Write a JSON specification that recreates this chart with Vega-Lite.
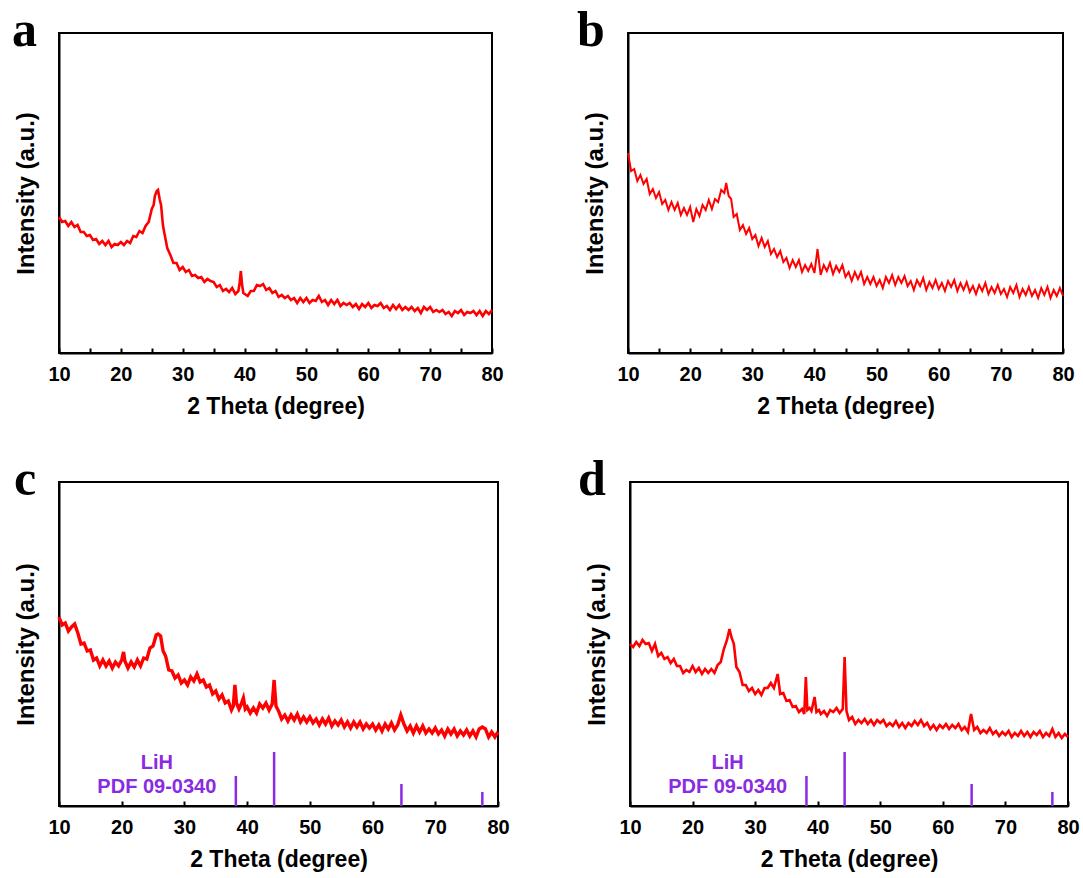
{
"$schema":"https://vega.github.io/schema/vega-lite/v6.json",
"background":"white",
"padding":{"left":11,"top":5,"right":5,"bottom":0},
"config":{
 "font":"Liberation Sans",
 "view":{"stroke":"black","strokeWidth":2},
 "axis":{"grid":false,"domainColor":"black","domainWidth":2,"tickColor":"black","tickWidth":2,"labelFont":"Liberation Sans","labelFontWeight":"bold","labelFontSize":20,"labelColor":"black","titleFont":"Liberation Sans","titleFontWeight":"bold","titleFontSize":23,"titleColor":"black"},
 "axisX":{"tickSize":-5,"labelPadding":16,"titlePadding":11,"labelFlush":false,"labelOverlap":false},
 "axisY":{"ticks":false,"labels":false,"titlePadding":21,"titleFontSize":24},
 "title":{"font":"Liberation Serif","fontSize":50,"fontWeight":"bold","anchor":"start","frame":"group","color":"black","baseline":"alphabetic","offset":-23}
},
"datasets":{
"a":[{"x":10,"y":136},{"x":10.5,"y":131},{"x":11,"y":132},{"x":11.5,"y":127},{"x":12,"y":131},{"x":12.5,"y":126},{"x":13,"y":128},{"x":13.5,"y":121},{"x":14,"y":121},{"x":14.5,"y":117},{"x":15,"y":118},{"x":15.5,"y":113},{"x":16,"y":114},{"x":16.5,"y":109},{"x":17,"y":112},{"x":17.5,"y":108},{"x":18,"y":112},{"x":18.5,"y":106},{"x":19,"y":109},{"x":19.5,"y":108},{"x":20,"y":111},{"x":20.5,"y":108},{"x":21,"y":112},{"x":21.5,"y":110},{"x":22,"y":117},{"x":22.5,"y":116},{"x":23,"y":122},{"x":23.5,"y":120},{"x":24,"y":127},{"x":24.5,"y":131},{"x":25,"y":144},{"x":25.3,"y":148},{"x":25.5,"y":157},{"x":25.8,"y":162},{"x":26,"y":163},{"x":26.3,"y":153},{"x":26.5,"y":148},{"x":26.8,"y":128},{"x":27,"y":121},{"x":27.5,"y":105},{"x":28,"y":98},{"x":28.5,"y":90},{"x":29,"y":90},{"x":29.5,"y":83},{"x":30,"y":86},{"x":30.5,"y":81},{"x":31,"y":83},{"x":31.5,"y":77},{"x":32,"y":78},{"x":32.5,"y":75},{"x":33,"y":76},{"x":33.5,"y":71},{"x":34,"y":74},{"x":34.5,"y":72},{"x":35,"y":71},{"x":35.5,"y":66},{"x":36,"y":68},{"x":36.5,"y":62},{"x":37,"y":64},{"x":37.5,"y":61},{"x":38,"y":65},{"x":38.5,"y":59},{"x":39,"y":62},{"x":39.2,"y":70},{"x":39.4,"y":82},{"x":39.6,"y":68},{"x":39.8,"y":60},{"x":40.5,"y":57},{"x":41,"y":62},{"x":41.5,"y":62},{"x":42,"y":68},{"x":42.5,"y":67},{"x":43,"y":69},{"x":43.5,"y":63},{"x":44,"y":65},{"x":44.5,"y":60},{"x":45,"y":62},{"x":45.5,"y":56},{"x":46,"y":58},{"x":46.5,"y":55},{"x":47,"y":57},{"x":47.5,"y":53},{"x":48,"y":55},{"x":48.5,"y":50},{"x":49,"y":55},{"x":49.5,"y":51},{"x":50,"y":55},{"x":50.5,"y":50},{"x":51,"y":53},{"x":51.5,"y":52},{"x":52,"y":57},{"x":52.5,"y":51},{"x":53,"y":53},{"x":53.5,"y":48},{"x":54,"y":53},{"x":54.5,"y":49},{"x":55,"y":53},{"x":55.5,"y":47},{"x":56,"y":50},{"x":56.5,"y":48},{"x":57,"y":50},{"x":57.5,"y":46},{"x":58,"y":49},{"x":58.5,"y":44},{"x":59,"y":49},{"x":59.5,"y":46},{"x":60,"y":50},{"x":60.5,"y":45},{"x":61,"y":48},{"x":61.5,"y":47},{"x":62,"y":50},{"x":62.5,"y":45},{"x":63,"y":47},{"x":63.5,"y":43},{"x":64,"y":48},{"x":64.5,"y":44},{"x":65,"y":48},{"x":65.5,"y":43},{"x":66,"y":46},{"x":66.5,"y":43},{"x":67,"y":46},{"x":67.5,"y":42},{"x":68,"y":45},{"x":68.5,"y":40},{"x":69,"y":46},{"x":69.5,"y":43},{"x":70,"y":46},{"x":70.5,"y":41},{"x":71,"y":43},{"x":71.5,"y":41},{"x":72,"y":43},{"x":72.5,"y":39},{"x":73,"y":41},{"x":73.5,"y":37},{"x":74,"y":42},{"x":74.5,"y":40},{"x":75,"y":43},{"x":75.5,"y":38},{"x":76,"y":41},{"x":76.5,"y":40},{"x":77,"y":42},{"x":77.5,"y":38},{"x":78,"y":42},{"x":78.5,"y":37},{"x":79,"y":42},{"x":79.5,"y":39},{"x":80,"y":43}],
"b":[{"x":10,"y":200},{"x":10.5,"y":182},{"x":11,"y":184},{"x":11.5,"y":172},{"x":12,"y":178},{"x":12.5,"y":169},{"x":13,"y":174},{"x":13.5,"y":159},{"x":14,"y":164},{"x":14.5,"y":155},{"x":15,"y":161},{"x":15.5,"y":149},{"x":16,"y":153},{"x":16.5,"y":143},{"x":17,"y":151},{"x":17.5,"y":143},{"x":18,"y":150},{"x":18.5,"y":138},{"x":19,"y":145},{"x":19.5,"y":138},{"x":20,"y":146},{"x":20.5,"y":131},{"x":21,"y":144},{"x":21.5,"y":137},{"x":22,"y":148},{"x":22.5,"y":143},{"x":23,"y":153},{"x":23.5,"y":144},{"x":24,"y":154},{"x":24.5,"y":151},{"x":25,"y":163},{"x":25.5,"y":160},{"x":25.8,"y":170},{"x":26.2,"y":157},{"x":26.6,"y":154},{"x":27,"y":136},{"x":27.5,"y":139},{"x":28,"y":123},{"x":28.5,"y":128},{"x":29,"y":119},{"x":29.5,"y":125},{"x":30,"y":114},{"x":30.5,"y":118},{"x":31,"y":107},{"x":31.5,"y":115},{"x":32,"y":106},{"x":32.5,"y":112},{"x":33,"y":99},{"x":33.5,"y":104},{"x":34,"y":96},{"x":34.5,"y":102},{"x":35,"y":91},{"x":35.5,"y":95},{"x":36,"y":85},{"x":36.5,"y":93},{"x":37,"y":86},{"x":37.5,"y":93},{"x":38,"y":81},{"x":38.5,"y":88},{"x":39,"y":82},{"x":39.5,"y":89},{"x":40,"y":80},{"x":40.5,"y":104},{"x":41,"y":78},{"x":41.5,"y":88},{"x":42,"y":82},{"x":42.5,"y":90},{"x":43,"y":79},{"x":43.5,"y":87},{"x":44,"y":81},{"x":44.5,"y":88},{"x":45,"y":76},{"x":45.5,"y":81},{"x":46,"y":72},{"x":46.5,"y":81},{"x":47,"y":74},{"x":47.5,"y":81},{"x":48,"y":69},{"x":48.5,"y":76},{"x":49,"y":69},{"x":49.5,"y":76},{"x":50,"y":67},{"x":50.5,"y":73},{"x":51,"y":65},{"x":51.5,"y":76},{"x":52,"y":70},{"x":52.5,"y":78},{"x":53,"y":68},{"x":53.5,"y":76},{"x":54,"y":70},{"x":54.5,"y":77},{"x":55,"y":67},{"x":55.5,"y":72},{"x":56,"y":63},{"x":56.5,"y":73},{"x":57,"y":67},{"x":57.5,"y":75},{"x":58,"y":63},{"x":58.5,"y":71},{"x":59,"y":65},{"x":59.5,"y":73},{"x":60,"y":64},{"x":60.5,"y":70},{"x":61,"y":62},{"x":61.5,"y":72},{"x":62,"y":66},{"x":62.5,"y":73},{"x":63,"y":62},{"x":63.5,"y":70},{"x":64,"y":63},{"x":64.5,"y":71},{"x":65,"y":61},{"x":65.5,"y":67},{"x":66,"y":59},{"x":66.5,"y":68},{"x":67,"y":62},{"x":67.5,"y":70},{"x":68,"y":59},{"x":68.5,"y":66},{"x":69,"y":60},{"x":69.5,"y":68},{"x":70,"y":59},{"x":70.5,"y":64},{"x":71,"y":56},{"x":71.5,"y":66},{"x":72,"y":60},{"x":72.5,"y":68},{"x":73,"y":56},{"x":73.5,"y":64},{"x":74,"y":58},{"x":74.5,"y":66},{"x":75,"y":57},{"x":75.5,"y":63},{"x":76,"y":55},{"x":76.5,"y":65},{"x":77,"y":58},{"x":77.5,"y":66},{"x":78,"y":55},{"x":78.5,"y":63},{"x":79,"y":57},{"x":79.5,"y":65},{"x":80,"y":57}],
"c":[{"x":10,"y":189},{"x":10.5,"y":181},{"x":11,"y":183},{"x":11.5,"y":175},{"x":12,"y":179},{"x":12.5,"y":182},{"x":13,"y":173},{"x":13.5,"y":162},{"x":14,"y":163},{"x":14.5,"y":155},{"x":15,"y":156},{"x":15.5,"y":146},{"x":16,"y":148},{"x":16.5,"y":140},{"x":17,"y":146},{"x":17.5,"y":140},{"x":18,"y":145},{"x":18.5,"y":138},{"x":19,"y":144},{"x":19.5,"y":140},{"x":20,"y":146},{"x":20.3,"y":154},{"x":20.5,"y":145},{"x":21,"y":138},{"x":21.5,"y":144},{"x":22,"y":139},{"x":22.5,"y":146},{"x":23,"y":140},{"x":23.5,"y":148},{"x":24,"y":147},{"x":24.5,"y":158},{"x":25,"y":160},{"x":25.5,"y":171},{"x":25.8,"y":172},{"x":26.2,"y":170},{"x":26.6,"y":155},{"x":27,"y":150},{"x":27.5,"y":136},{"x":28,"y":135},{"x":28.5,"y":128},{"x":29,"y":131},{"x":29.5,"y":123},{"x":30,"y":126},{"x":30.5,"y":121},{"x":31,"y":129},{"x":31.5,"y":125},{"x":32,"y":132},{"x":32.5,"y":124},{"x":33,"y":126},{"x":33.5,"y":119},{"x":34,"y":121},{"x":34.5,"y":112},{"x":35,"y":115},{"x":35.5,"y":107},{"x":36,"y":111},{"x":36.5,"y":103},{"x":37,"y":105},{"x":37.5,"y":96},{"x":37.8,"y":100},{"x":38.05,"y":121},{"x":38.3,"y":103},{"x":38.7,"y":97},{"x":39,"y":101},{"x":39.4,"y":108},{"x":39.7,"y":97},{"x":40,"y":99},{"x":40.5,"y":93},{"x":41,"y":98},{"x":41.5,"y":93},{"x":42,"y":102},{"x":42.5,"y":98},{"x":43,"y":103},{"x":43.5,"y":96},{"x":44,"y":102},{"x":44.3,"y":126},{"x":44.6,"y":100},{"x":45,"y":95},{"x":45.5,"y":87},{"x":46,"y":91},{"x":46.5,"y":85},{"x":47,"y":91},{"x":47.5,"y":86},{"x":48,"y":92},{"x":48.5,"y":84},{"x":49,"y":89},{"x":49.5,"y":84},{"x":50,"y":89},{"x":50.5,"y":83},{"x":51,"y":87},{"x":51.5,"y":81},{"x":52,"y":87},{"x":52.5,"y":82},{"x":53,"y":88},{"x":53.5,"y":80},{"x":54,"y":85},{"x":54.5,"y":81},{"x":55,"y":86},{"x":55.5,"y":79},{"x":56,"y":84},{"x":56.5,"y":78},{"x":57,"y":84},{"x":57.5,"y":79},{"x":58,"y":84},{"x":58.5,"y":77},{"x":59,"y":82},{"x":59.5,"y":78},{"x":60,"y":82},{"x":60.5,"y":76},{"x":61,"y":81},{"x":61.5,"y":75},{"x":62,"y":82},{"x":62.5,"y":77},{"x":63,"y":83},{"x":63.5,"y":76},{"x":64,"y":81},{"x":64.5,"y":91},{"x":65,"y":82},{"x":65.5,"y":75},{"x":66,"y":80},{"x":66.5,"y":73},{"x":67,"y":80},{"x":67.5,"y":74},{"x":68,"y":80},{"x":68.5,"y":73},{"x":69,"y":77},{"x":69.5,"y":73},{"x":70,"y":78},{"x":70.5,"y":72},{"x":71,"y":76},{"x":71.5,"y":70},{"x":72,"y":77},{"x":72.5,"y":72},{"x":73,"y":77},{"x":73.5,"y":70},{"x":74,"y":75},{"x":74.5,"y":71},{"x":75,"y":76},{"x":75.5,"y":70},{"x":76,"y":75},{"x":76.5,"y":69},{"x":77,"y":77},{"x":77.5,"y":79},{"x":78,"y":77},{"x":78.5,"y":69},{"x":79,"y":74},{"x":79.5,"y":69},{"x":80,"y":74}],
"d":[{"x":10,"y":162},{"x":10.5,"y":159},{"x":11,"y":164},{"x":11.5,"y":160},{"x":12,"y":166},{"x":12.5,"y":162},{"x":13,"y":163},{"x":13.5,"y":155},{"x":14,"y":162},{"x":14.5,"y":150},{"x":15,"y":153},{"x":15.5,"y":147},{"x":16,"y":149},{"x":16.5,"y":143},{"x":17,"y":147},{"x":17.5,"y":140},{"x":18,"y":140},{"x":18.5,"y":133},{"x":19,"y":136},{"x":19.5,"y":134},{"x":20,"y":140},{"x":20.5,"y":134},{"x":21,"y":138},{"x":21.5,"y":132},{"x":22,"y":137},{"x":22.5,"y":133},{"x":23,"y":137},{"x":23.5,"y":133},{"x":24,"y":141},{"x":24.5,"y":144},{"x":25,"y":157},{"x":25.5,"y":166},{"x":25.9,"y":177},{"x":26.2,"y":169},{"x":26.6,"y":162},{"x":27,"y":139},{"x":27.5,"y":134},{"x":28,"y":121},{"x":28.5,"y":121},{"x":29,"y":115},{"x":29.5,"y":118},{"x":30,"y":112},{"x":30.5,"y":116},{"x":31,"y":111},{"x":31.5,"y":118},{"x":32,"y":118},{"x":32.5,"y":123},{"x":33,"y":118},{"x":33.6,"y":132},{"x":34,"y":112},{"x":34.5,"y":113},{"x":35,"y":105},{"x":35.5,"y":106},{"x":36,"y":99},{"x":36.5,"y":100},{"x":37,"y":94},{"x":37.5,"y":97},{"x":37.85,"y":92},{"x":38.1,"y":129},{"x":38.35,"y":96},{"x":38.7,"y":98},{"x":39,"y":95},{"x":39.5,"y":109},{"x":39.8,"y":94},{"x":40.2,"y":96},{"x":40.5,"y":92},{"x":41,"y":95},{"x":41.5,"y":90},{"x":42,"y":96},{"x":42.5,"y":94},{"x":43,"y":98},{"x":43.5,"y":93},{"x":44,"y":97},{"x":44.3,"y":149},{"x":44.6,"y":95},{"x":45,"y":86},{"x":45.5,"y":89},{"x":46,"y":82},{"x":46.5,"y":86},{"x":47,"y":83},{"x":47.5,"y":87},{"x":48,"y":82},{"x":48.5,"y":86},{"x":49,"y":81},{"x":49.5,"y":86},{"x":50,"y":83},{"x":50.5,"y":86},{"x":51,"y":80},{"x":51.5,"y":83},{"x":52,"y":80},{"x":52.5,"y":85},{"x":53,"y":79},{"x":53.5,"y":83},{"x":54,"y":78},{"x":54.5,"y":83},{"x":55,"y":80},{"x":55.5,"y":85},{"x":56,"y":81},{"x":56.5,"y":86},{"x":57,"y":80},{"x":57.5,"y":83},{"x":58,"y":77},{"x":58.5,"y":81},{"x":59,"y":76},{"x":59.5,"y":81},{"x":60,"y":78},{"x":60.5,"y":82},{"x":61,"y":77},{"x":61.5,"y":81},{"x":62,"y":78},{"x":62.5,"y":82},{"x":63,"y":76},{"x":63.5,"y":79},{"x":64,"y":74},{"x":64.5,"y":92},{"x":65,"y":76},{"x":65.5,"y":79},{"x":66,"y":73},{"x":66.5,"y":76},{"x":67,"y":73},{"x":67.5,"y":78},{"x":68,"y":72},{"x":68.5,"y":75},{"x":69,"y":70},{"x":69.5,"y":74},{"x":70,"y":71},{"x":70.5,"y":75},{"x":71,"y":69},{"x":71.5,"y":73},{"x":72,"y":70},{"x":72.5,"y":75},{"x":73,"y":70},{"x":73.5,"y":74},{"x":74,"y":69},{"x":74.5,"y":74},{"x":75,"y":71},{"x":75.5,"y":75},{"x":76,"y":69},{"x":76.5,"y":73},{"x":77,"y":70},{"x":77.5,"y":77},{"x":78,"y":69},{"x":78.5,"y":73},{"x":79,"y":68},{"x":79.5,"y":72},{"x":80,"y":69}],
"ref":[{"x":38.2,"h":30},{"x":44.3,"h":54},{"x":64.6,"h":22},{"x":77.5,"h":14}],
"lbl":[{"x":25.6,"y":43,"t":"LiH"},{"x":25.6,"y":19,"t":"PDF 09-0340"}]
},
"vconcat":[
 {"hconcat":[
  {"width":433,"height":320,"title":{"text":"a","dx":-47},"data":{"name":"a"},
   "mark":{"type":"line","color":"#ff0000","strokeWidth":2.6},
   "encoding":{
    "x":{"field":"x","type":"quantitative","scale":{"domain":[10,80],"nice":false},"axis":{"title":"2 Theta (degree)","values":[10,15,20,25,30,35,40,45,50,55,60,65,70,75,80],"labelExpr":"datum.value % 10 === 0 ? datum.label : ''"}},
    "y":{"field":"y","type":"quantitative","scale":{"domain":[0,320],"nice":false},"axis":{"title":"Intensity (a.u.)"}}}},
  {"width":435,"height":320,"title":{"text":"b","dx":-51},"data":{"name":"b"},
   "mark":{"type":"line","color":"#ff0000","strokeWidth":2},
   "encoding":{
    "x":{"field":"x","type":"quantitative","scale":{"domain":[10,80],"nice":false},"axis":{"title":"2 Theta (degree)","values":[10,15,20,25,30,35,40,45,50,55,60,65,70,75,80],"labelExpr":"datum.value % 10 === 0 ? datum.label : ''"}},
    "y":{"field":"y","type":"quantitative","scale":{"domain":[0,320],"nice":false},"axis":{"title":"Intensity (a.u.)"}}}}
 ],"spacing":71},
 {"hconcat":[
  {"width":439,"height":324,"title":{"text":"c","dx":-45},
   "layer":[
    {"data":{"name":"c"},"mark":{"type":"line","color":"#ff0000","strokeWidth":3.4},
     "encoding":{
      "x":{"field":"x","type":"quantitative","scale":{"domain":[10,80],"nice":false},"axis":{"title":"2 Theta (degree)","values":[10,15,20,25,30,35,40,45,50,55,60,65,70,75,80],"labelExpr":"datum.value % 10 === 0 ? datum.label : ''"}},
      "y":{"field":"y","type":"quantitative","scale":{"domain":[0,324],"nice":false},"axis":{"title":"Intensity (a.u.)"}}}},
    {"data":{"name":"ref"},"mark":{"type":"rule","color":"#8a2be2","strokeWidth":2.5},
     "encoding":{"x":{"field":"x","type":"quantitative"},"y":{"field":"h","type":"quantitative"},"y2":{"datum":0}}},
    {"data":{"name":"lbl"},"mark":{"type":"text","color":"#8a2be2","font":"Liberation Sans","fontWeight":"bold","fontSize":20,"align":"center","baseline":"middle"},
     "encoding":{"x":{"field":"x","type":"quantitative"},"y":{"field":"y","type":"quantitative"},"text":{"field":"t"}}}
   ]},
  {"width":438,"height":324,"title":{"text":"d","dx":-52},
   "layer":[
    {"data":{"name":"d"},"mark":{"type":"line","color":"#ff0000","strokeWidth":2.6},
     "encoding":{
      "x":{"field":"x","type":"quantitative","scale":{"domain":[10,80],"nice":false},"axis":{"title":"2 Theta (degree)","values":[10,15,20,25,30,35,40,45,50,55,60,65,70,75,80],"labelExpr":"datum.value % 10 === 0 ? datum.label : ''"}},
      "y":{"field":"y","type":"quantitative","scale":{"domain":[0,324],"nice":false},"axis":{"title":"Intensity (a.u.)"}}}},
    {"data":{"name":"ref"},"mark":{"type":"rule","color":"#8a2be2","strokeWidth":2.5},
     "encoding":{"x":{"field":"x","type":"quantitative"},"y":{"field":"h","type":"quantitative"},"y2":{"datum":0}}},
    {"data":{"name":"lbl"},"mark":{"type":"text","color":"#8a2be2","font":"Liberation Sans","fontWeight":"bold","fontSize":20,"align":"center","baseline":"middle"},
     "encoding":{"x":{"field":"x","type":"quantitative"},"y":{"field":"y","type":"quantitative"},"text":{"field":"t"}}}
   ]}
 ],"spacing":66}
],
"spacing":35
}
